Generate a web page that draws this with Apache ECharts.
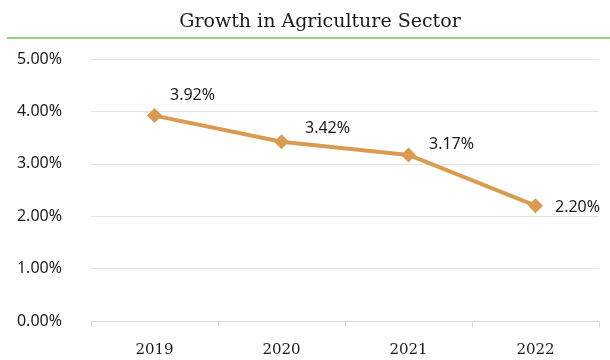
<!DOCTYPE html>
<html>
<head>
<meta charset="utf-8">
<script src="https://cdn.jsdelivr.net/npm/echarts@6/dist/echarts.min.js"></script>
<style>
  html, body { margin: 0; padding: 0; background: #fff; }
  #chart { width: 610px; height: 360px; }
</style>
</head>
<body>
<div id="chart"></div>
<script>
// Annual agricultural growth rate (%)
const years = ['2019', '2020', '2021', '2022'];
const growth = [3.92, 3.42, 3.17, 2.20];
const yTicks = [0, 1, 2, 3, 4, 5];

// Per-point label placement so the value text sits clear of the line
const labelOffsets = [[-4, -20], [4, -13], [1, -10], [0, 2]];

const chart = echarts.init(document.getElementById('chart'), null, { renderer: 'canvas' });

chart.setOption({
  animation: false,
  backgroundColor: '#ffffff',
  title: {
    text: 'Growth in Agriculture Sector',
    left: 315,
    textAlign: 'center',
    top: 8,
    textStyle: {
      fontFamily: 'DejaVu Serif',
      fontWeight: 'normal',
      fontSize: 19,
      color: '#1a1a1a'
    }
  },
  graphic: [{
    type: 'line',
    shape: { x1: 7, y1: 38, x2: 610, y2: 38 },
    style: { stroke: '#8fd17f', lineWidth: 2 }
  }],
  grid: { left: 91, right: 11, top: 59, bottom: 39 },
  xAxis: {
    type: 'category',
    data: years,
    boundaryGap: true,
    axisLine: { lineStyle: { color: '#d9d9d9', width: 1 } },
    axisTick: { show: true, length: 6, inside: false, lineStyle: { color: '#d9d9d9' } },
    axisLabel: {
      margin: 22,
      fontFamily: 'DejaVu Serif',
      fontSize: 15,
      color: '#1a1a1a'
    }
  },
  yAxis: {
    type: 'value',
    min: yTicks[0],
    max: yTicks[yTicks.length - 1],
    interval: 1,
    axisLine: { show: false },
    axisTick: { show: false },
    splitLine: { lineStyle: { color: '#e3e3e3', width: 1 } },
    axisLabel: {
      margin: 29,
      fontFamily: 'Noto Sans',
      fontSize: 16,
      color: '#1a1a1a',
      formatter: v => v.toFixed(2) + '%'
    }
  },
  series: [{
    type: 'line',
    data: growth.map((v, i) => ({
      value: v,
      label: { offset: labelOffsets[i] }
    })),
    symbol: 'diamond',
    symbolSize: 15,
    lineStyle: { color: '#d99a52', width: 4 },
    itemStyle: { color: '#d99a52' },
    label: {
      show: true,
      position: 'right',
      distance: 12,
      fontFamily: 'Noto Sans',
      fontSize: 16,
      color: '#1a1a1a',
      formatter: p => p.value.toFixed(2) + '%'
    }
  }]
});
</script>
</body>
</html>
